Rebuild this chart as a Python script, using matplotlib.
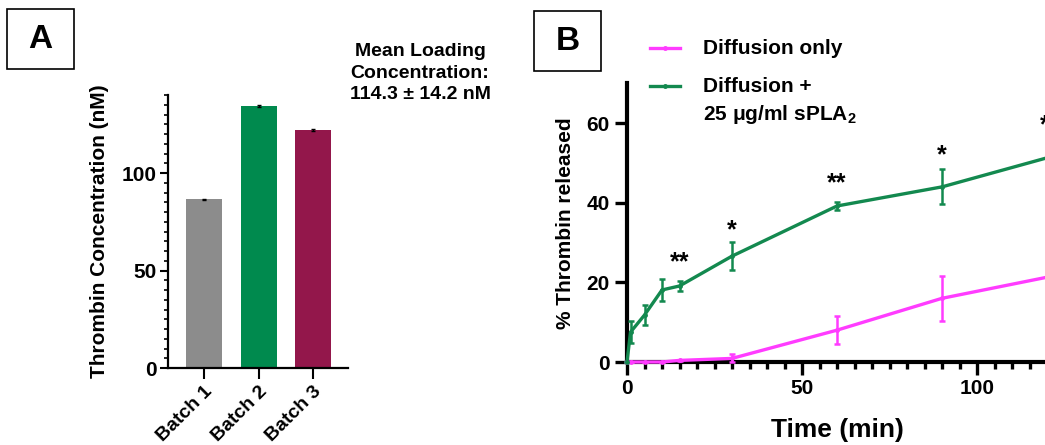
import matplotlib
matplotlib.use("Agg")
import matplotlib.pyplot as plt
from matplotlib.ticker import MultipleLocator
from matplotlib.patches import Rectangle
from matplotlib.lines import Line2D

plt.rcParams['font.family'] = ['Liberation Sans', 'DejaVu Sans']
plt.rcParams['font.weight'] = 'bold'
plt.rcParams['axes.labelweight'] = 'bold'
plt.rcParams['mathtext.fontset'] = 'custom'
plt.rcParams['mathtext.rm'] = 'Liberation Sans:bold'
plt.rcParams['mathtext.bf'] = 'Liberation Sans:bold'
plt.rcParams['mathtext.default'] = 'bf'

# panel A data
batches = ["Batch 1", "Batch 2", "Batch 3"]
conc = [86.5, 134.5, 122.0]
conc_err = [0.4, 0.5, 0.4]
bar_colors = ["#8c8c8c", "#008a4e", "#93174b"]

# panel B data
time_min = [0, 1, 5, 10, 15, 30, 60, 90, 120]
diff_only = [0, 0, 0, 0, 0.4, 0.9, 8.0, 16.0, 21.3]
diff_only_err = [0, 0, 0, 0, 0.2, 1.0, 3.5, 5.7, 0]
diff_spla = [0, 7.5, 11.8, 18.1, 19.1, 26.6, 39.2, 44.0, 51.3]
diff_spla_err = [0, 2.8, 2.4, 2.8, 1.3, 3.6, 1.0, 4.4, 0]
star_time = [15, 30, 60, 90, 119.4]
star_y = [25, 33, 45, 52, 59.5]
star_txt = ["**", "*", "**", "*", "*"]

green = "#13894f"
magenta = "#ff3cff"

fig = plt.figure(figsize=(10.45, 4.45), dpi=100)

# ---- panel A ----
axA = fig.add_axes([168/1045, 77/445, 180/1045, 273/445])
x = range(len(batches))
axA.bar(x, conc, width=0.66, color=bar_colors, edgecolor="none")
axA.errorbar(x, conc, yerr=conc_err, fmt="none", ecolor="black", elinewidth=1, capsize=1.5)
axA.set_xlim(-0.66, 2.64)
axA.set_ylim(0, 140)
axA.yaxis.set_major_locator(MultipleLocator(50))
axA.yaxis.set_minor_locator(MultipleLocator(5))
axA.set_xticks(list(x))
axA.set_xticklabels(batches, rotation=45, ha="right", rotation_mode="anchor", fontsize=14)
axA.tick_params(axis="y", which="major", length=6, width=1.5, labelsize=15, pad=2)
axA.tick_params(axis="y", which="minor", length=3, width=1.2)
axA.tick_params(axis="x", length=8, width=1.5, pad=3)
for s in ["top", "right"]:
    axA.spines[s].set_visible(False)
for s in ["left", "bottom"]:
    axA.spines[s].set_linewidth(1.6)
axA.set_ylabel("Thrombin Concentration (nM)", fontsize=15, labelpad=9)

fig.text(420/1045, 1 - 73/445, "Mean Loading\nConcentration:\n114.3 \u00b1 14.2 nM",
         ha="center", va="center", fontsize=14, linespacing=1.35)

# ---- panel B ----
axB = fig.add_axes([627/1045, 83/445, 420/1045, 278.6/445])
axB.errorbar(time_min, diff_only, yerr=diff_only_err, color=magenta, lw=2.4,
             marker="o", markersize=2.5, capsize=2.5, elinewidth=1.8, capthick=1.8,
             label="Diffusion only", clip_on=False, zorder=3)
axB.errorbar(time_min, diff_spla, yerr=diff_spla_err, color=green, lw=2.4,
             marker="o", markersize=2.5, capsize=2.5, elinewidth=1.8, capthick=1.8,
             label="Diffusion +\n25 \u03bcg/ml sPLA$_2$", clip_on=False, zorder=3)
for t, yv, s in zip(star_time, star_y, star_txt):
    axB.text(t, yv, s, ha="center", va="center", fontsize=18)
axB.set_xlim(0, 120)
axB.set_ylim(0, 70)
axB.xaxis.set_major_locator(MultipleLocator(50))
axB.xaxis.set_minor_locator(MultipleLocator(5))
axB.yaxis.set_major_locator(MultipleLocator(20))
axB.tick_params(axis="both", which="major", length=9, width=2.4, labelsize=15)
axB.tick_params(axis="x", which="minor", length=5, width=2.4)
for s in ["top", "right"]:
    axB.spines[s].set_visible(False)
for s in ["left", "bottom"]:
    axB.spines[s].set_linewidth(3)
axB.set_ylabel("% Thrombin released", fontsize=15, labelpad=8)
axB.set_xlabel("Time (min)", fontsize=19, labelpad=14)

# legend drawn at the top of panel B
leg_rows = [(48, magenta, "Diffusion only"), (86, green, "Diffusion +\n25 \u03bcg/ml sPLA$_2$")]
for ypx, c, lab in leg_rows:
    yf = 1 - ypx/445
    fig.add_artist(Line2D([650/1045, 680/1045], [yf, yf], color=c, lw=2.4))
    fig.add_artist(Line2D([665/1045], [yf], color=c, marker="o", markersize=2.5))
    fig.text(703/1045, yf, lab.split("\n")[0], ha="left", va="center", fontsize=15)
    if "\n" in lab:
        fig.text(703/1045, 1 - 115/445, lab.split("\n")[1], ha="left", va="center", fontsize=15)

# panel letters in boxes
for (x0, y0, x1, y1, letter) in [(7, 9, 74, 69, "A"), (534, 11, 601, 71, "B")]:
    fig.add_artist(Rectangle((x0/1045, 1 - y1/445), (x1 - x0)/1045, (y1 - y0)/445,
                             transform=fig.transFigure, fill=False, edgecolor="black", lw=1.2))
    fig.text((x0 + x1)/2/1045, 1 - (y0 + y1)/2/445, letter, ha="center", va="center", fontsize=24)

fig.savefig("out.png", dpi=100)
